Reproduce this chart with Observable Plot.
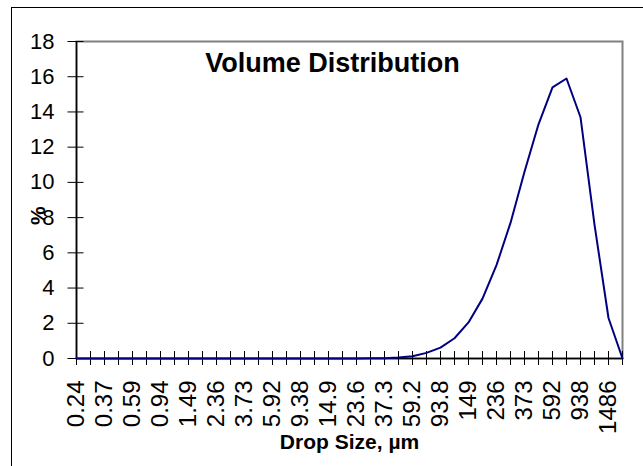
<!DOCTYPE html>
<html>
<head>
<meta charset="utf-8">
<script src="https://cdn.jsdelivr.net/npm/d3@7"></script>
<script src="https://cdn.jsdelivr.net/npm/@observablehq/plot@0.6"></script>
<style>
  html, body { margin: 0; padding: 0; background: #fff; }
  #wrap { position: relative; width: 643px; height: 466px; overflow: hidden; background: #fff; }
  #border { position: absolute; left: 11px; top: 7px; width: 700px; height: 520px; border: 1.3px solid #000; box-sizing: border-box; }
  #chart { position: absolute; left: 0; top: 0; }
</style>
</head>
<body>
<div id="wrap"><div id="border"></div><div id="chart"></div></div>
<script>
// Drop size categories (µm)
const sizes = ["0.24","0.30","0.37","0.47","0.59","0.74","0.94","1.18","1.49","1.88",
               "2.36","2.97","3.73","4.70","5.92","7.46","9.38","11.8","14.9","18.8",
               "23.6","29.7","37.3","47.0","59.2","74.6","93.8","118","149","188",
               "236","297","373","470","592","746","938","1181","1486","1872"];
// Labeled categories on the axis
const tickLabels = ["0.24","0.37","0.59","0.94","1.49","2.36","3.73","5.92","9.38","14.9",
                    "23.6","37.3","59.2","93.8","149","236","373","592","938","1486"];
// Volume distribution (%)
const volume = [0,0,0,0,0,0,0,0,0,0,
                0,0,0,0,0,0,0,0,0,0,
                0,0.01,0.02,0.05,0.13,0.32,0.62,1.15,2.05,3.4,
                5.3,7.7,10.6,13.3,15.4,15.9,13.7,7.6,2.3,0];
const yTicks = [0,2,4,6,8,10,12,14,16,18];
const title = "Volume Distribution";
const xTitle = "Drop Size, µm";
const yTitle = "%";

const data = sizes.map((s, i) => ({size: s, v: volume[i]}));

const chart = Plot.plot({
  width: 643,
  height: 466,
  marginLeft: 76,
  marginRight: 21,
  marginTop: 41,
  marginBottom: 108,
  style: {fontFamily: "'Liberation Sans', Arial, sans-serif", color: "#000", background: "transparent"},
  x: {type: "point", domain: sizes, padding: 0},
  y: {domain: [0, 18]},
  marks: [
    Plot.frame({stroke: "#808080", strokeWidth: 2}),
    Plot.ruleX([sizes[0]], {stroke: "#000", strokeWidth: 1.5}),
    Plot.ruleY([0], {stroke: "#000", strokeWidth: 1.5}),
    Plot.axisX({ticks: sizes, tickSize: 14, dy: -7, tickFormat: () => "", label: null, stroke: "#000"}),
    Plot.axisY({ticks: yTicks, tickSize: 16, dx: 7.5, tickFormat: () => "", label: null, stroke: "#000"}),
    Plot.text(tickLabels, {x: d => d, frameAnchor: "bottom", rotate: -90, textAnchor: "end", lineAnchor: "middle", dy: 22, fontSize: 24}),
    Plot.text(yTicks, {y: d => d, frameAnchor: "left", textAnchor: "end", lineAnchor: "middle", dx: -22, fontSize: 22}),
    Plot.line(data, {x: "size", y: "v", stroke: "#000080", strokeWidth: 2}),
    Plot.text([title], {frameAnchor: "top", lineAnchor: "middle", dx: -17, dy: 22, fontSize: 27, fontWeight: "bold"}),
    Plot.text([xTitle], {frameAnchor: "bottom", lineAnchor: "middle", dy: 84, fontSize: 21, fontWeight: "bold"}),
    Plot.text([yTitle], {frameAnchor: "left", rotate: -90, dx: -38, dy: 25, fontSize: 21, fontWeight: "bold"})
  ]
});
document.getElementById("chart").appendChild(chart);
</script>
</body>
</html>
